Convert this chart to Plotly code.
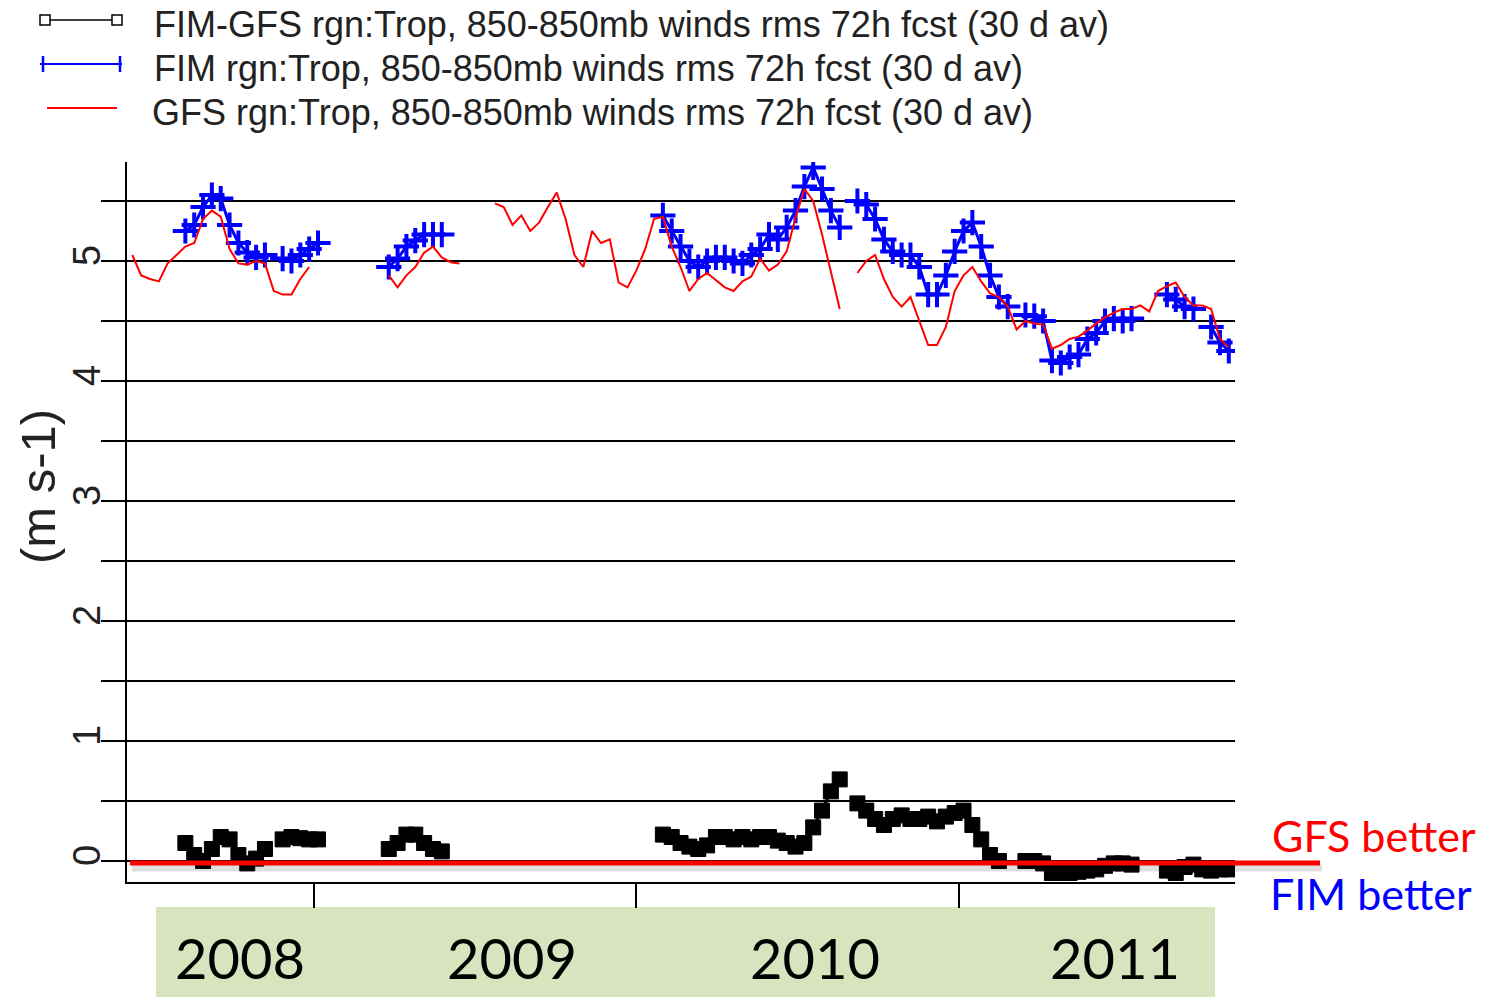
import plotly.graph_objects as go
import pandas as pd

# ---- data (30-day running mean, sampled every 10 days) ----
DATES = pd.date_range("2008-06-10", periods=125, freq="10D")
N = None

GFS = [
    5.05, 4.88, 4.85, 4.83, 4.98, 5.05, 5.12, 5.15, 5.35, 5.42,
    5.37, 5.10, 4.98, 4.97, 5.00, 4.98, 4.75, 4.72, 4.72, 4.85,
    4.95, N, N, N, N, N, N, N, N, 4.88,
    4.78, 4.88, 4.95, 5.07, 5.12, 5.03, 4.99, 4.98, N, N,
    N, 5.48, 5.45, 5.30, 5.38, 5.25, 5.32, 5.45, 5.57, 5.35,
    5.05, 4.95, 5.25, 5.15, 5.18, 4.82, 4.78, 4.92, 5.10, 5.35,
    5.37, 5.12, 4.95, 4.75, 4.85, 4.90, 4.84, 4.78, 4.75, 4.83,
    4.87, 5.02, 4.92, 4.97, 5.08, 5.36, 5.60, 5.50, 5.22, 4.90,
    4.60, N, 4.90, 5.00, 5.05, 4.85, 4.70, 4.62, 4.70, 4.50,
    4.30, 4.30, 4.45, 4.75, 4.88, 4.95, 4.83, 4.73, 4.70, 4.62,
    4.43, 4.50, 4.48, 4.47, 4.27, 4.30, 4.35, 4.37, 4.42, 4.48,
    4.53, 4.57, 4.60, 4.60, 4.63, 4.58, 4.75, 4.79, 4.82, 4.70,
    4.63, 4.63, 4.60, 4.35, 4.28,
]

FIM = [
    N, N, N, N, N, N, 5.25, 5.30, 5.45, 5.55,
    5.52, 5.30, 5.15, 5.07, 5.03, 5.05, N, 5.02, 5.00, 5.05,
    5.10, 5.15, N, N, N, N, N, N, N, 4.95,
    5.02, 5.12, 5.17, 5.22, 5.22, 5.22, N, N, N, N,
    N, N, N, N, N, N, N, N, N, N,
    N, N, N, N, N, N, N, N, N, N,
    5.38, 5.25, 5.12, 5.00, 4.95, 5.00, 5.03, 5.03, 5.00, 4.98,
    5.05, 5.10, 5.22, 5.18, 5.28, 5.42, 5.62, 5.78, 5.60, 5.42,
    5.28, N, 5.50, 5.47, 5.35, 5.18, 5.08, 5.05, 5.05, 4.95,
    4.72, 4.72, 4.88, 5.08, 5.25, 5.32, 5.12, 4.88, 4.70, 4.62,
    N, 4.55, 4.54, 4.50, 4.17, 4.15, 4.20, 4.22, 4.35, 4.40,
    4.50, 4.52, 4.50, 4.52, N, N, N, 4.72, 4.68, 4.62,
    4.60, N, 4.45, 4.32, 4.25,
]

DIFF = [
    N, N, N, N, N, N, 0.15, 0.05, 0.00, 0.10,
    0.20, 0.18, 0.05, -0.02, 0.02, 0.10, N, 0.18, 0.20, 0.19,
    0.18, 0.18, N, N, N, N, N, N, N, 0.10,
    0.15, 0.22, 0.22, 0.15, 0.10, 0.08, N, N, N, N,
    N, N, N, N, N, N, N, N, N, N,
    N, N, N, N, N, N, N, N, N, N,
    0.22, 0.20, 0.15, 0.12, 0.10, 0.13, 0.20, 0.20, 0.18, 0.20,
    0.18, 0.20, 0.20, 0.17, 0.15, 0.12, 0.15, 0.28, 0.42, 0.58,
    0.68, N, 0.48, 0.42, 0.35, 0.30, 0.35, 0.38, 0.35, 0.35,
    0.37, 0.33, 0.37, 0.40, 0.42, 0.30, 0.18, 0.05, 0.00, N,
    N, 0.00, 0.00, -0.02, -0.10, -0.10, -0.10, -0.09, -0.08, -0.07,
    -0.04, -0.02, -0.02, -0.03, N, N, N, -0.08, -0.10, -0.05,
    -0.03, -0.07, -0.08, -0.07, -0.07,
]

LEGEND_TEXT = [
    "FIM-GFS rgn:Trop, 850-850mb winds rms 72h fcst (30 d av)",
    "FIM rgn:Trop, 850-850mb winds rms 72h fcst (30 d av)",
    "GFS rgn:Trop, 850-850mb winds rms 72h fcst (30 d av)",
]
YEARS = ["2008", "2009", "2010", "2011"]
Y_TICKS = [0, 0.5, 1, 1.5, 2, 2.5, 3, 3.5, 4, 4.5, 5, 5.5]
Y_TICKTEXT = ["0", "", "1", "", "2", "", "3", "", "4", "", "5", ""]
X_TICKS = ["2009-01-01", "2010-01-01", "2011-01-01"]
Y_TITLE = "(m s-1)"

# ---- layout geometry (page pixels; body margin removed below) ----
W, H = 1487, 998
L, R, T, B = 127, 1235, 162, 882


def px_x(p):
    return (p - L) / (R - L)


def px_y(p):
    return (B - p) / (B - T)


FONT = "Liberation Sans, Arial, sans-serif"
CAL = "Lato, Open Sans, sans-serif"

fig = go.Figure()
fig.add_trace(go.Scatter(
    x=DATES, y=DIFF, mode="lines+markers", connectgaps=False,
    line=dict(color="black", width=3),
    marker=dict(symbol="square", size=15, color="black",
                line=dict(color="black", width=1)),
    showlegend=False))
fig.add_trace(go.Scatter(
    x=DATES, y=FIM, mode="lines+markers", connectgaps=False,
    line=dict(color="#0000FF", width=3),
    marker=dict(symbol="cross-thin", size=18,
                line=dict(color="#0000FF", width=4)),
    showlegend=False))
fig.add_trace(go.Scatter(
    x=DATES, y=GFS, mode="lines", connectgaps=False,
    line=dict(color="#FF0000", width=2),
    showlegend=False))

shapes = []
# zero line with shadow
shapes.append(dict(type="line", xref="paper", yref="paper",
                   x0=px_x(132), x1=px_x(1322), y0=px_y(868), y1=px_y(868),
                   line=dict(color="rgba(0,0,0,0.13)", width=7)))
shapes.append(dict(type="line", xref="paper", yref="paper",
                   x0=px_x(130), x1=px_x(1320), y0=px_y(863), y1=px_y(863),
                   line=dict(color="#FF0000", width=5)))
# legend glyphs
shapes.append(dict(type="line", xref="paper", yref="paper",
                   x0=px_x(45), x1=px_x(117), y0=px_y(20), y1=px_y(20),
                   line=dict(color="black", width=1.5)))
for cx in (45, 117):
    shapes.append(dict(type="rect", xref="paper", yref="paper",
                       x0=px_x(cx - 5), x1=px_x(cx + 5),
                       y0=px_y(25), y1=px_y(15),
                       fillcolor="white", line=dict(color="black", width=1.5)))
shapes.append(dict(type="line", xref="paper", yref="paper",
                   x0=px_x(40), x1=px_x(122), y0=px_y(64), y1=px_y(64),
                   line=dict(color="#0000FF", width=2)))
for cx in (43, 120):
    shapes.append(dict(type="line", xref="paper", yref="paper",
                       x0=px_x(cx), x1=px_x(cx), y0=px_y(56), y1=px_y(72),
                       line=dict(color="#0000FF", width=2.5)))
shapes.append(dict(type="line", xref="paper", yref="paper",
                   x0=px_x(47), x1=px_x(117), y0=px_y(108), y1=px_y(108),
                   line=dict(color="#FF0000", width=2)))
# green year box
shapes.append(dict(type="rect", xref="paper", yref="paper",
                   x0=px_x(156), x1=px_x(1215), y0=px_y(997), y1=px_y(907),
                   fillcolor="#D7E4BD", line=dict(width=0), layer="below"))

annotations = []
for txt, xx, yy in zip(LEGEND_TEXT, (152, 152, 150), (24, 68, 112)):
    annotations.append(dict(text=txt, xref="paper", yref="paper",
                            x=px_x(xx), y=px_y(yy), xanchor="left",
                            yanchor="middle", showarrow=False,
                            font=dict(family=FONT, size=36, color="#222")))
for yr, xc in zip(YEARS, (240, 512, 815, 1115)):
    annotations.append(dict(text=yr, xref="paper", yref="paper",
                            x=px_x(xc), y=px_y(957), xanchor="center",
                            yanchor="middle", showarrow=False,
                            font=dict(family=CAL, size=56, color="black")))
annotations.append(dict(text="GFS better", xref="paper", yref="paper",
                        x=px_x(1270), y=px_y(835), xanchor="left",
                        yanchor="middle", showarrow=False,
                        font=dict(family=CAL, size=43, color="#FF0000")))
annotations.append(dict(text="FIM better", xref="paper", yref="paper",
                        x=px_x(1268), y=px_y(893), xanchor="left",
                        yanchor="middle", showarrow=False,
                        font=dict(family=CAL, size=43, color="#0000FF")))
annotations.append(dict(text=Y_TITLE, xref="paper", yref="paper",
                        x=px_x(38), y=px_y(487), xanchor="center",
                        yanchor="middle", showarrow=False, textangle=-90,
                        font=dict(family=FONT, size=49, color="#222")))

fig.update_layout(
    width=W, height=H,
    margin=dict(l=L, r=W - R, t=T, b=H - B, pad=0),
    paper_bgcolor="white", plot_bgcolor="white",
    shapes=shapes, annotations=annotations,
    showlegend=False,
    xaxis=dict(type="date", range=["2008-06-04", "2011-11-09"],
               automargin=False,
               showgrid=False, zeroline=False,
               showline=True, linecolor="black", linewidth=2,
               ticks="outside", ticklen=24, tickwidth=2, tickcolor="black",
               tickvals=X_TICKS, showticklabels=False),
    yaxis=dict(range=[-0.175, 5.825], tickvals=Y_TICKS, ticktext=Y_TICKTEXT,
               automargin=False,
               showgrid=True, gridcolor="black", gridwidth=2,
               zeroline=False, showline=True, linecolor="black", linewidth=2,
               ticks="outside", ticklen=24, tickwidth=2, tickcolor="black",
               tickangle=-90, ticklabelstandoff=-14,
               tickfont=dict(family=FONT, size=38, color="#222")),
)

fig.write_html(
    "out.html",
    config={"displayModeBar": False},
    post_script="document.body.style.margin='0';document.body.style.overflow='hidden';",
)
